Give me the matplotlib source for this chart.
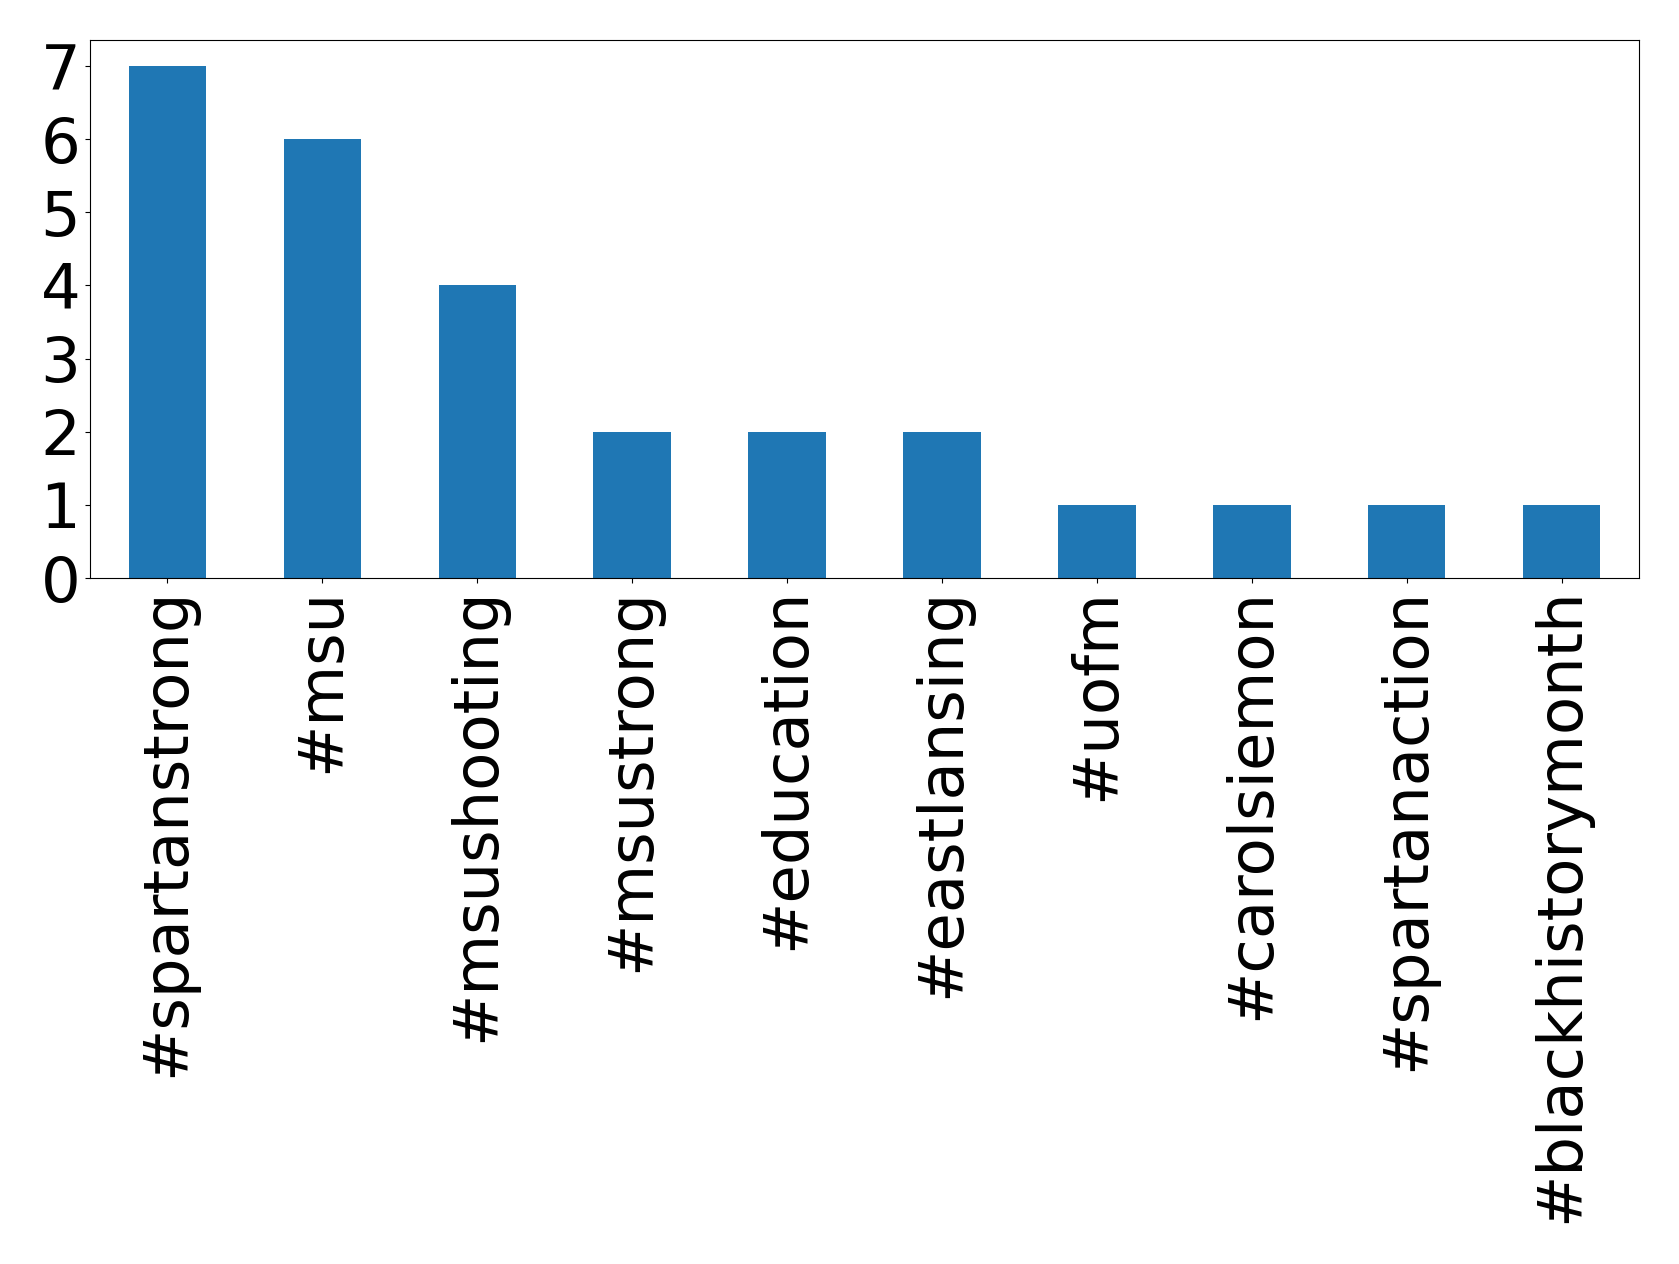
import matplotlib
matplotlib.use("Agg")
import matplotlib.pyplot as plt

hashtags = ['#spartanstrong', '#msu', '#msushooting', '#msustrong', '#education',
            '#eastlansing', '#uofm', '#carolsiemon', '#spartanaction', '#blackhistorymonth']
counts = [7, 6, 4, 2, 2, 2, 1, 1, 1, 1]

fig = plt.figure(figsize=(16.79, 12.64), dpi=100)
ax = fig.add_axes([0.0536, 0.5427, 0.9226, 0.4253])

x = range(len(hashtags))
ax.bar(x, counts, width=0.5, color='#1f77b4')
ax.set_xlim(-0.5, len(hashtags) - 0.5)
ax.set_xticks(list(x))
ax.set_xticklabels(hashtags, rotation=90, fontsize=45)
ax.tick_params(axis='y', labelsize=45)
ax.set_yticks(range(0, 8))

fig.savefig('out.png', dpi=100)
